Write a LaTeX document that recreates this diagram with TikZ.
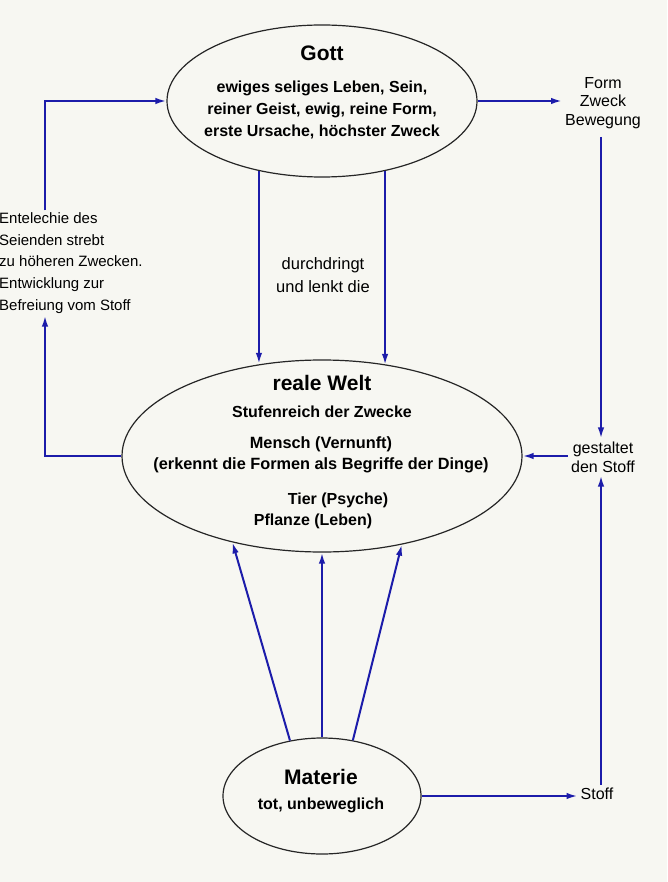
\documentclass[tikz,border=0pt]{standalone}
\usepackage{fontspec}
\setmainfont{Liberation Sans}
\usetikzlibrary{shapes.geometric,arrows.meta}
\definecolor{bg}{RGB}{247,247,242}
\definecolor{lblue}{RGB}{28,28,170}
\begin{document}
\begin{tikzpicture}[x=1pt,y=-1pt,
  ell/.style={ellipse,draw=black!85,line width=1.2pt,fill=bg,inner sep=0pt},
  arr/.style={draw=lblue,line width=2pt,-{Latex[length=11pt,width=6.5pt]}},
  ttl/.style={font=\fontsize{21}{24}\selectfont\bfseries,inner sep=0pt},
  bd/.style={font=\fontsize{16}{22}\selectfont\bfseries,align=center,inner sep=0pt},
  lbl/.style={font=\fontsize{16}{19}\selectfont,align=center,inner sep=3pt},
]
\fill[bg] (0,0) rectangle (667,882);
\useasboundingbox (0,0) rectangle (667,882);

% ellipses
\node[ell,minimum width=310pt,minimum height=152pt] (gott) at (322,101) {};
\node[ell,minimum width=400pt,minimum height=192pt] (welt) at (322,456) {};
\node[ell,minimum width=198pt,minimum height=116pt] (materie) at (322,796) {};

% texts inside ellipses
\node[ttl] (gt) at (322,53) {Gott};
\node[bd] (gtx) at (322,110) {ewiges seliges Leben, Sein,\\reiner Geist, ewig, reine Form,\\erste Ursache, höchster Zweck};

\node[ttl] (wt) at (322,383) {reale Welt};
\node[bd] (wst) at (322,412) {Stufenreich der Zwecke};
\node[bd,font=\fontsize{16.3}{21}\selectfont\bfseries] (wme) at (321,455) {Mensch (Vernunft)\\(erkennt die Formen als Begriffe der Dinge)};
\node[bd] (wti) at (338,500) {Tier (Psyche)};
\node[bd] (wpf) at (313,521) {Pflanze (Leben)};

\node[ttl] (mt) at (321,777) {Materie};
\node[bd] (mtx) at (321,805) {tot, unbeweglich};

% labels
\node[lbl,font=\fontsize{16}{18.5}\selectfont] (form) at (603,103) {Form\\Zweck\\Bewegung};
\node[lbl] (gest) at (603,457) {gestaltet\\den Stoff};
\node[lbl] (stoff) at (597,794) {Stoff};
\node[lbl,font=\fontsize{16.5}{23}\selectfont] (durch) at (323,275) {durchdringt\\und lenkt die};
\node[lbl,font=\fontsize{15}{21.7}\selectfont,align=left,anchor=west,inner sep=2pt] (ent) at (-3,263)
  {Entelechie des\\Seienden strebt\\zu höheren Zwecken.\\Entwicklung zur\\Befreiung vom Stoff};

\coordinate (rx) at (601,0);
\coordinate (lx) at (45,0);

% connectors
\draw[arr] (gott.east) -- (gott.east -| form.west);
\draw[arr,shorten <=5pt] (rx |- form.south) -- (rx |- gest.north);
\draw[arr] (rx |- stoff.north) -- (rx |- gest.south);
\draw[arr] (gest.west |- welt.east) -- (welt.east);
\draw[arr] (materie.east) -- (materie.east -| stoff.west);

\draw[arr] (gott.228.9) -- (gott.228.9 |- welt.123.7);
\draw[arr] (gott.312.8) -- (gott.312.8 |- welt.54.85);

\draw[arr] (materie.120.1) -- (welt.224.4);
\draw[arr] (materie.90) -- (materie.90 |- welt.270);
\draw[arr] (materie.61.5) -- (welt.312);

\draw[arr] (welt.west) -- (lx |- welt.west) -- (lx |- ent.south);
\draw[arr] (lx |- ent.north) -- (lx |- gott.west) -- (gott.west);
\end{tikzpicture}
\end{document}
